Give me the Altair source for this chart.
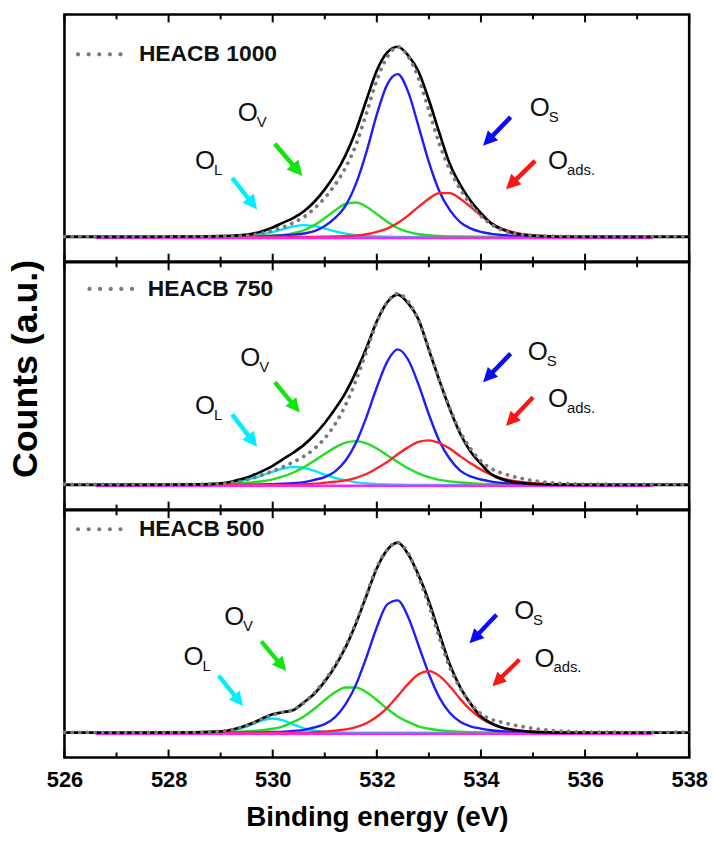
import math
import altair as alt
import pandas as pd

FONT = "Liberation Sans, Arial, Helvetica, sans-serif"

# Binding energy grid (eV)
X = [526.0, 527.0, 528.0, 528.5,
     529.0, 529.2, 529.4, 529.6, 529.8,
     530.0, 530.2, 530.4, 530.6, 530.8, 531.0, 531.2, 531.4, 531.6, 531.8,
     532.0, 532.2, 532.4, 532.6, 532.8, 533.0, 533.2, 533.4, 533.6, 533.8,
     534.0, 534.2, 534.4, 534.6, 534.8, 535.0, 535.2, 535.4, 535.6, 535.8, 536.4, 537.0, 538.0]

# ---------------- HEACB 1000 ----------------
P1_DATA = [.002, .001, .002, .002, .003, .004, .006, .011, .020,
           .034, .052, .075, .105, .150, .205, .275, .365, .485, .650,
           .825, .945, 1.00, .950, .835, .665, .490, .355, .252, .172,
           .110, .066, .036, .020, .012, .008, .005, .004, .003, .002, .002, .001, .002]
P1_ENV = [0, 0, .001, .002, .004, .006, .009, .016, .030,
          .050, .075, .100, .135, .185, .250, .330, .430, .560, .720,
          .875, .970, 1.00, .955, .870, .720, .548, .385, .275, .190,
          .125, .070, .040, .022, .012, .007, .004, .002, .001, .001, 0, 0, 0]
P1_OL = [0, 0, 0, 0, .001, .002, .004, .008, .015,
         .026, .041, .055, .062, .057, .044, .029, .017, .009, .005,
         .003, .001, 0, 0, 0, 0, 0, 0, 0, 0,
         0, 0, 0, 0, 0, 0, 0, 0, 0, 0, 0, 0, 0]
P1_OV = [0, 0, 0, 0, .001, .002, .003, .004, .005,
         .007, .011, .020, .035, .062, .099, .140, .173, .181, .159,
         .120, .080, .047, .026, .014, .009, .005, .003, .002, .001,
         0, 0, 0, 0, 0, 0, 0, 0, 0, 0, 0, 0, 0]
P1_OS = [0, 0, 0, 0, 0, .001, .001, .002, .003,
         .005, .008, .012, .018, .030, .058, .100, .165, .280, .446,
         .644, .802, .856, .764, .583, .393, .240, .142, .078, .045,
         .026, .016, .010, .006, .003, .002, .001, 0, 0, 0, 0, 0, 0]
P1_OADS = [0, 0, 0, 0, 0, 0, 0, 0, 0,
           0, 0, 0, 0, 0, .001, .002, .004, .007, .014,
           .027, .044, .073, .112, .158, .201, .230, .230, .201, .158,
           .112, .073, .044, .027, .014, .008, .004, .002, .001, 0, 0, 0, 0]

# ---------------- HEACB 750 ----------------
P2_DATA = [.003, .002, .002, .003, .006, .012, .020, .034, .052,
           .072, .095, .120, .150, .190, .245, .320, .420, .550, .700,
           .855, .960, 1.005, .965, .865, .715, .550, .405, .280, .190,
           .125, .085, .062, .045, .032, .022, .015, .010, .007, .005, .003, .002, .002]
P2_ENV = [0, 0, .001, .002, .008, .016, .030, .048, .072,
          .100, .135, .170, .210, .262, .325, .400, .485, .594, .720,
          .860, .960, 1.00, .955, .870, .710, .550, .400, .270, .175,
          .110, .055, .030, .016, .009, .005, .003, .002, .001, 0, 0, 0, 0]
P2_OL = [0, 0, 0, .001, .007, .011, .020, .033, .050,
         .070, .086, .094, .089, .073, .054, .036, .023, .013, .007,
         .004, .002, .001, 0, 0, 0, 0, 0, 0, 0,
         0, 0, 0, 0, 0, 0, 0, 0, 0, 0, 0, 0, 0]
P2_OV = [0, 0, 0, .001, .004, .007, .009, .013, .019,
         .029, .044, .065, .093, .127, .163, .197, .222, .230, .218,
         .191, .156, .120, .087, .060, .040, .026, .018, .012, .008,
         .005, .003, .002, .001, 0, 0, 0, 0, 0, 0, 0, 0, 0]
P2_OS = [0, 0, 0, 0, 0, 0, 0, .001, .002,
         .004, .006, .009, .014, .026, .041, .071, .128, .221, .356,
         .513, .648, .712, .659, .528, .370, .231, .137, .075, .044,
         .028, .017, .010, .006, .003, .002, .001, 0, 0, 0, 0, 0, 0]
P2_OADS = [0, 0, 0, 0, 0, 0, 0, 0, 0,
           0, 0, 0, .003, .006, .011, .016, .023, .037, .057,
           .087, .120, .161, .197, .226, .234, .220, .191, .151, .114,
           .080, .054, .034, .022, .014, .009, .006, .003, .002, .001, 0, 0, 0]

# ---------------- HEACB 500 ----------------
P3_DATA = [.002, .001, .002, .002, .008, .014, .028, .048, .072,
           .094, .108, .122, .158, .210, .275, .355, .455, .580, .725,
           .870, .962, 1.00, .945, .820, .670, .500, .345, .235, .155,
           .100, .070, .055, .042, .032, .023, .016, .011, .008, .005, .003, .002, .003]
P3_ENV = [0, 0, .001, .002, .007, .016, .030, .050, .075,
          .097, .108, .120, .160, .205, .270, .350, .450, .575, .720,
          .865, .962, 1.00, .940, .830, .690, .523, .360, .240, .153,
          .085, .050, .028, .016, .009, .005, .003, .002, .001, 0, 0, 0, 0]
P3_OL = [0, 0, 0, .001, .005, .011, .023, .043, .065,
         .075, .065, .043, .023, .011, .005, .002, .001, 0, 0,
         0, 0, 0, 0, 0, 0, 0, 0, 0, 0,
         0, 0, 0, 0, 0, 0, 0, 0, 0, 0, 0, 0, 0]
P3_OV = [0, 0, 0, 0, .002, .004, .006, .009, .013,
         .021, .034, .057, .086, .126, .172, .213, .238, .238, .213,
         .172, .126, .086, .057, .034, .021, .013, .008, .005, .003,
         .002, .001, 0, 0, 0, 0, 0, 0, 0, 0, 0, 0, 0]
P3_OS = [0, 0, 0, 0, 0, 0, 0, 0, .002,
         .004, .006, .010, .015, .028, .045, .082, .150, .253, .397,
         .555, .675, .696, .609, .460, .309, .186, .105, .058, .034,
         .022, .013, .008, .005, .003, .002, .001, 0, 0, 0, 0, 0, 0]
P3_OADS = [0, 0, 0, 0, 0, 0, 0, 0, 0,
           0, 0, 0, 0, .003, .006, .011, .018, .030, .050,
           .084, .131, .193, .256, .307, .324, .299, .245, .178, .120,
           .076, .046, .027, .017, .010, .006, .003, .002, .001, 0, 0, 0, 0]

SAMPLES = ["HEACB 1000", "HEACB 750", "HEACB 500"]
LEG_X1 = [526.26, 526.48, 526.26]
LEG_X2 = [527.13, 527.35, 527.17]
LEG_Y = [0.96, 1.03, 1.07]
LEG_TX = [527.43, 527.60, 527.43]

SUBS = ["L", "V", "S", "ads."]
LAB_X = [[528.70, 529.52, 535.13, 535.48],
         [528.70, 529.57, 535.09, 535.48],
         [528.48, 529.26, 534.83, 535.22]]
LAB_Y = [[0.40, 0.65, 0.675, 0.40],
         [0.415, 0.665, 0.70, 0.45],
         [0.40, 0.61, 0.64, 0.39]]
AR_X0 = [[529.22, 530.04, 534.57, 535.04],
         [529.22, 530.04, 534.57, 535.00],
         [528.96, 529.78, 534.30, 534.74]]
AR_Y0 = [[0.31, 0.49, 0.63, 0.40],
         [0.37, 0.54, 0.69, 0.46],
         [0.30, 0.48, 0.62, 0.385]]
AR_X1 = [[529.70, 530.57, 534.04, 534.48],
         [529.70, 530.52, 534.04, 534.48],
         [529.43, 530.26, 533.78, 534.22]]
AR_Y1 = [[0.144, 0.32, 0.48, 0.25],
         [0.20, 0.38, 0.54, 0.31],
         [0.14, 0.325, 0.47, 0.245]]

MAJOR = [526, 528, 530, 532, 534, 536, 538]
MINOR = [527, 529, 531, 533, 535, 537]

PANELS = [
    (P1_DATA, P1_ENV, [P1_OL, P1_OV, P1_OS, P1_OADS]),
    (P2_DATA, P2_ENV, [P2_OL, P2_OV, P2_OS, P2_OADS]),
    (P3_DATA, P3_ENV, [P3_OL, P3_OV, P3_OS, P3_OADS]),
]
for d, e, cs in PANELS:
    assert len(d) == len(X) and len(e) == len(X)
    for c in cs:
        assert len(c) == len(X)

COMP_NAMES = ["OL", "OV", "OS", "Oads"]
COMP_COLORS = ["#00e6f6", "#22dd22", "#1c1cff", "#ff2222"]
ARROW_COLORS = ["#00eeff", "#11e611", "#0a0aff", "#ff1414"]
ARROW_PATH = "M-0.11,1 L0.11,1 L0.11,-0.28 L0.36,-0.28 L0,-1 L-0.36,-0.28 L-0.11,-0.28 Z"

W, H = 630, 249.3
XD = [526, 538]
YD = [-0.13, 1.17]
PX_X = W / (XD[1] - XD[0])
PX_Y = H / (YD[1] - YD[0])


def panel(i):
    data, env, comps = PANELS[i]
    last = i == 2
    mid = i == 1
    if last:
        xaxis = alt.Axis(values=MAJOR, format="d", labelFontSize=22, labelFont=FONT,
                         labelFontWeight="bold", labelColor="black", labelPadding=12,
                         labelFlush=False, ticks=False, domain=False, grid=False,
                         title="Binding energy (eV)", titleFontSize=28, titleFont=FONT,
                         titleFontWeight="bold", titleColor="black", titlePadding=14)
    else:
        xaxis = None
    if mid:
        yaxis = alt.Axis(labels=False, ticks=False, domain=False, grid=False,
                         title="Counts (a.u.)", titleFontSize=36, titleFont=FONT,
                         titleFontWeight="bold", titleColor="black", titlePadding=20,
                         titleY=107)
    else:
        yaxis = None

    def ex():
        return alt.X("x:Q", scale=alt.Scale(domain=XD, nice=False, zero=False), axis=xaxis)

    def ey():
        return alt.Y("y:Q", scale=alt.Scale(domain=YD, nice=False, zero=False), axis=yaxis)

    layers = []
    maj = pd.DataFrame({"x": MAJOR})
    mnr = pd.DataFrame({"x": MINOR})
    for df, ln in ((maj, 8), (mnr, 5)):
        layers.append(alt.Chart(df).mark_rule(color="black", strokeWidth=2).encode(
            x=ex(), y=alt.value(0), y2=alt.value(ln)))
        layers.append(alt.Chart(df).mark_rule(color="black", strokeWidth=2).encode(
            x=ex(), y=alt.value(H), y2=alt.value(H - ln)))

    comp_rows = []
    for name, vals in zip(COMP_NAMES, comps):
        for xv, yv in zip(X, vals):
            comp_rows.append({"x": xv, "y": yv, "s": name})
    comp_df = pd.DataFrame(comp_rows)
    layers.append(alt.Chart(comp_df).mark_line(strokeWidth=2.4, interpolate="monotone").encode(
        x=ex(), y=ey(),
        color=alt.Color("s:N", scale=alt.Scale(domain=COMP_NAMES, range=COMP_COLORS), legend=None),
        detail="s:N"))

    base_df = pd.DataFrame({"x": [526.6, 537.3], "y": [-0.005, -0.005]})
    layers.append(alt.Chart(base_df).mark_line(color="#ff22ff", strokeWidth=2.6).encode(x=ex(), y=ey()))

    env_df = pd.DataFrame({"x": X, "y": env})
    layers.append(alt.Chart(env_df).mark_line(color="#000000", strokeWidth=2.7,
                                              interpolate="monotone").encode(x=ex(), y=ey()))

    dat_df = pd.DataFrame({"x": X, "y": data})
    layers.append(alt.Chart(dat_df).mark_line(color="#7a7a7a", strokeWidth=3.8, strokeCap="round",
                                              strokeDash=[0.1, 7.6], interpolate="monotone").encode(
        x=ex(), y=ey()))

    leg_df = pd.DataFrame({"x": [LEG_X1[i], LEG_X2[i]], "y": [LEG_Y[i], LEG_Y[i]]})
    layers.append(alt.Chart(leg_df).mark_line(color="#7a7a7a", strokeWidth=4.2, strokeCap="round",
                                              strokeDash=[0.1, 10.6]).encode(x=ex(), y=ey()))
    legt_df = pd.DataFrame({"x": [LEG_TX[i]], "y": [LEG_Y[i]], "t": [SAMPLES[i]]})
    layers.append(alt.Chart(legt_df).mark_text(align="left", baseline="middle", fontSize=23,
                                               font=FONT, fontWeight="bold", color="#111111").encode(
        x=ex(), y=ey(), text="t:N"))

    lab_df = pd.DataFrame({"x": LAB_X[i], "y": LAB_Y[i], "m": ["O"] * 4, "s": SUBS})
    layers.append(alt.Chart(lab_df).mark_text(align="center", baseline="middle", fontSize=26,
                                              font=FONT, color="#111111").encode(
        x=ex(), y=ey(), text="m:N"))
    layers.append(alt.Chart(lab_df).mark_text(align="left", baseline="middle", fontSize=15,
                                              font=FONT, color="#111111", dx=9, dy=9).encode(
        x=ex(), y=ey(), text="s:N"))

    arr_rows = []
    for k in range(4):
        x0, y0, x1, y1 = AR_X0[i][k], AR_Y0[i][k], AR_X1[i][k], AR_Y1[i][k]
        dxp = (x1 - x0) * PX_X
        dyp = -(y1 - y0) * PX_Y
        ln = math.hypot(dxp, dyp)
        ang = math.degrees(math.atan2(dxp, -dyp)) % 360
        arr_rows.append({"x": (x0 + x1) / 2, "y": (y0 + y1) / 2, "a": ang, "z": ln * ln,
                         "c": ARROW_COLORS[k]})
    arr_df = pd.DataFrame(arr_rows)
    layers.append(alt.Chart(arr_df).mark_point(shape=ARROW_PATH, filled=True, opacity=1,
                                               strokeWidth=0).encode(
        x=ex(), y=ey(),
        angle=alt.Angle("a:Q", scale=None),
        size=alt.Size("z:Q", scale=None),
        color=alt.Color("c:N", scale=None)))

    return alt.layer(*layers).properties(width=W, height=H)


chart = alt.vconcat(panel(0), panel(1), panel(2), spacing=0, bounds="flush").properties(
    padding={"left": 6, "top": 8, "right": 4, "bottom": 4},
    background="white",
).configure_view(stroke="black", strokeWidth=2.6)

chart.save("out.html", embed_options={"renderer": "svg", "actions": False})
